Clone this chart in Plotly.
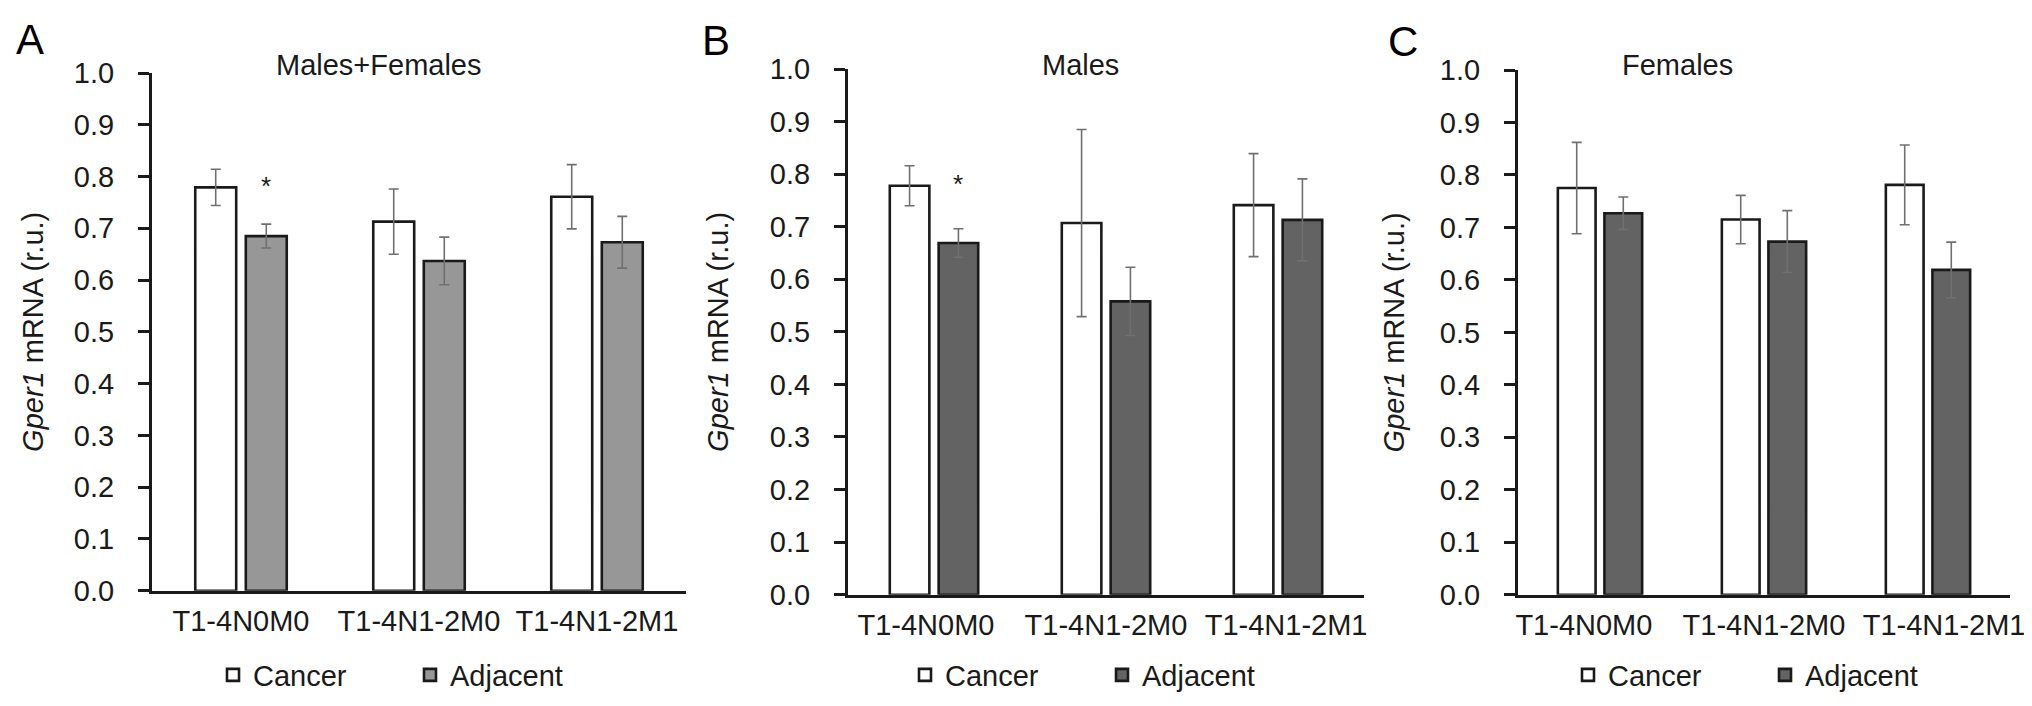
import plotly.graph_objects as go

# ---------------- data ----------------
categories = ["T1-4N0M0", "T1-4N1-2M0", "T1-4N1-2M1"]
panel_titles = ["Males+Females", "Males", "Females"]
panel_letters = ["A", "B", "C"]
series_names = ["Cancer", "Adjacent"]

a_cancer = [0.779, 0.713, 0.761]
a_cancer_err = [0.035, 0.063, 0.062]
a_adjacent = [0.685, 0.637, 0.673]
a_adjacent_err = [0.023, 0.046, 0.050]

b_cancer = [0.778, 0.707, 0.741]
b_cancer_err = [0.038, 0.178, 0.098]
b_adjacent = [0.669, 0.558, 0.713]
b_adjacent_err = [0.027, 0.065, 0.078]

c_cancer = [0.775, 0.715, 0.781]
c_cancer_err = [0.087, 0.046, 0.076]
c_adjacent = [0.727, 0.673, 0.619]
c_adjacent_err = [0.031, 0.059, 0.053]

a_sig = ["*", "", ""]
b_sig = ["*", "", ""]
c_sig = ["", "", ""]
sig_level = 0.782

y_tick_values = [0.0, 0.1, 0.2, 0.3, 0.4, 0.5, 0.6, 0.7, 0.8, 0.9, 1.0]
y_tick_labels = ["0.0", "0.1", "0.2", "0.3", "0.4", "0.5", "0.6", "0.7", "0.8", "0.9", "1.0"]
y_title = "<i>Gper1</i> mRNA (r.u.)"

# ---------------- styling / layout ----------------
W, H = 2032, 706
FONT = "Liberation Sans, Arial, Helvetica, sans-serif"
INK = "#1a1a1a"
ERR = "#707070"
adjacent_colors = ["#979797", "#636363", "#636363"]
BARGAP = 0.432
NBSP = "\u00a0"

# pixel geometry of each panel: x-left, x-right, y-top, y-bottom
panel_px = [
    (144, 678, 65, 582.7),
    (840, 1356, 61, 586.7),
    (1510, 2002, 62, 586.7),
]
title_px = [(371, 57), (1072, 57), (1669, 57)]
letter_px = [(6, 31), (692, 33), (1378, 34)]
ytitle_standoff = [22, 33, 27]
legend_px = [(205, 667), (897, 667), (1560, 667)]
# horizontal nudge (in NBSP half-widths) of the category labels, per panel
label_pad = [(0, 0, 0), (-2, 0, 2), (-4, 0, 4)]

panels = [
    (a_cancer, a_cancer_err, a_adjacent, a_adjacent_err, a_sig),
    (b_cancer, b_cancer_err, b_adjacent, b_adjacent_err, b_sig),
    (c_cancer, c_cancer_err, c_adjacent, c_adjacent_err, c_sig),
]


def padded(label, n):
    if n < 0:
        return label + NBSP * (-n)
    return NBSP * n + label


fig = go.Figure()
layout = dict(
    width=W, height=H,
    margin=dict(l=0, r=0, t=0, b=0, autoexpand=False),
    paper_bgcolor="white", plot_bgcolor="white",
    barmode="group", bargap=BARGAP, bargroupgap=0.19,
    font=dict(family=FONT, size=29, color=INK),
    showlegend=True,
    annotations=[],
)

for i, (canc, canc_err, adj, adj_err, sig) in enumerate(panels):
    sfx = "" if i == 0 else str(i + 1)
    xa, ya = "x" + sfx, "y" + sfx
    leg = "legend" + sfx
    x0, x1, yt, yb = panel_px[i]

    fig.add_trace(go.Bar(
        x=categories, y=canc, name=series_names[0],
        xaxis=xa, yaxis=ya, legend=leg,
        marker=dict(color="white", line=dict(color=INK, width=2.6)),
        error_y=dict(type="data", array=canc_err, visible=True,
                     color=ERR, thickness=1.6, width=5),
    ))
    fig.add_trace(go.Bar(
        x=categories, y=adj, name=series_names[1],
        xaxis=xa, yaxis=ya, legend=leg,
        marker=dict(color=adjacent_colors[i], line=dict(color=INK, width=2.6)),
        error_y=dict(type="data", array=adj_err, visible=True,
                     color=ERR, thickness=1.6, width=5),
    ))

    layout["xaxis" + sfx] = dict(
        domain=[x0 / W, x1 / W], anchor=ya,
        type="category", range=[-0.5, 2.5],
        tickmode="array", tickvals=categories,
        ticktext=[padded(c, n) for c, n in zip(categories, label_pad[i])],
        showline=True, linecolor=INK, linewidth=3,
        ticks="", showgrid=False, zeroline=False, tickangle=0,
        tickfont=dict(family=FONT, size=29, color=INK),
        ticklabelstandoff=2,
    )
    layout["yaxis" + sfx] = dict(
        domain=[1 - yb / H, 1 - yt / H], anchor=xa,
        range=[0, 1.0],
        tickmode="array", tickvals=y_tick_values, ticktext=y_tick_labels,
        ticks="outside", ticklen=11, tickwidth=2.5, tickcolor=INK,
        showline=True, linecolor=INK, linewidth=3,
        showgrid=False, zeroline=False,
        tickfont=dict(family=FONT, size=29, color=INK),
        ticklabelstandoff=18,
        title=dict(text=y_title, font=dict(family=FONT, size=29, color=INK),
                   standoff=ytitle_standoff[i]),
    )
    lx, ly = legend_px[i]
    layout[leg] = dict(
        orientation="h", x=lx / W, xanchor="left", y=1 - ly / H, yanchor="middle",
        font=dict(family=FONT, size=29, color=INK),
        itemwidth=30, entrywidth=152, entrywidthmode="pixels",
        bgcolor="rgba(0,0,0,0)", borderwidth=0, itemclick=False,
    )

    # panel title
    tx, ty = title_px[i]
    layout["annotations"].append(dict(
        text=panel_titles[i], xref="paper", yref="paper",
        x=tx / W, y=1 - ty / H, xanchor="center", yanchor="middle",
        showarrow=False, font=dict(family=FONT, size=29, color=INK)))
    # panel letter
    lx2, ly2 = letter_px[i]
    layout["annotations"].append(dict(
        text=panel_letters[i], xref="paper", yref="paper",
        x=lx2 / W, y=1 - ly2 / H, xanchor="left", yanchor="middle",
        showarrow=False, font=dict(family=FONT, size=42, color="black")))
    # significance marks above the adjacent bars
    cat_px = (x1 - x0) / len(categories)
    shift = cat_px * (1 - BARGAP) / 4
    for cat, s in zip(categories, sig):
        if s:
            layout["annotations"].append(dict(
                text=s, xref=xa, yref=ya, x=cat, y=sig_level,
                xshift=shift, xanchor="center", yanchor="middle",
                showarrow=False, font=dict(family=FONT, size=26, color=INK)))

fig.update_layout(**layout)
fig.write_html("out.html")
